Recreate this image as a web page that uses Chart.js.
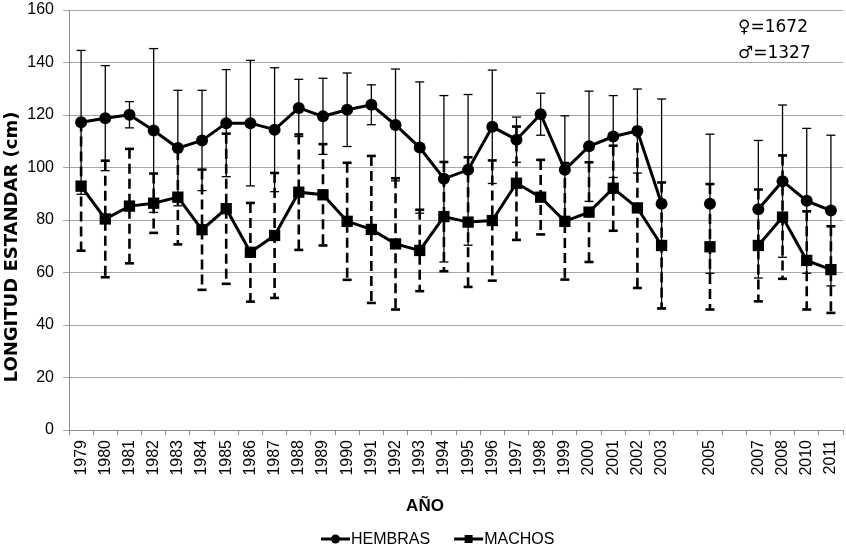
<!DOCTYPE html>
<html>
<head>
<meta charset="utf-8">
<script src="https://cdn.jsdelivr.net/npm/chart.js@4.4.1/dist/chart.umd.min.js"></script>
<style>
  html, body { margin: 0; padding: 0; background: #fff; overflow: hidden; }
  #wrap { width: 846px; height: 549px; }
  canvas { display: block; }
</style>
</head>
<body>
<div id="wrap"><canvas id="chart"></canvas></div>
<script>
// categories (2004 and 2006 are empty slots on the axis)
const years = ['1979', '1980', '1981', '1982', '1983', '1984', '1985', '1986', '1987', '1988',
  '1989', '1990', '1991', '1992', '1993', '1994', '1995', '1996', '1997', '1998', '1999',
  '2000', '2001', '2002', '2003', '', '2005', '', '2007', '2008', '2010', '2011'];

// HEMBRAS: mean and standard deviation
const hembras = [117.2, 118.8, 120.1, 114.1, 107.4, 110.3, 116.9, 116.9, 114.4, 122.7,
  119.5, 122.0, 123.9, 116.2, 107.6, 95.7, 99.1, 115.5, 110.6, 120.3, 99.1,
  108.1, 111.8, 113.9, 86.2, null, 86.2, null, 84.1, 94.8, 87.3, 83.6];
const hembrasSd = [27.4, 20.0, 5.0, 31.2, 22.0, 19.1, 20.4, 23.9, 23.6, 10.9,
  14.5, 14.0, 7.6, 21.3, 25.0, 31.7, 28.7, 21.6, 8.6, 8.0, 20.6,
  21.0, 15.6, 16.0, 39.9, null, 26.5, null, 26.2, 29.0, 27.6, 28.7];

// MACHOS: mean and standard deviation
const machos = [92.9, 80.4, 85.3, 86.4, 88.7, 76.3, 84.3, 67.7, 74.1, 90.6,
  89.6, 79.5, 76.4, 70.9, 68.4, 81.3, 79.2, 79.8, 94.0, 88.7, 79.5,
  83.0, 92.1, 84.6, 70.3, null, 69.8, null, 70.3, 81.1, 64.6, 61.1];
const machosSd = [24.6, 22.2, 21.8, 11.3, 18.0, 22.9, 28.6, 18.8, 23.8, 22.0,
  19.3, 22.3, 28.0, 25.0, 15.5, 20.8, 24.7, 22.9, 21.6, 14.2, 22.2,
  19.0, 16.2, 30.5, 24.0, null, 23.9, null, 21.3, 23.5, 18.7, 16.5];

const yTicks = [0, 20, 40, 60, 80, 100, 120, 140, 160];
const sampleSizes = ['\u2640=1672', '\u2642=1327'];

const sdByDataset = [hembrasSd, machosSd];

// error bars, drawn behind lines and markers
const errorBars = {
  id: 'errorBars',
  beforeDatasetsDraw(chart) {
    const ctx = chart.ctx;
    const y = chart.scales.y;
    chart.data.datasets.forEach((ds, di) => {
      const meta = chart.getDatasetMeta(di);
      const sds = sdByDataset[di];
      ctx.save();
      ctx.strokeStyle = '#000';
      if (di === 0) {
        ctx.lineWidth = 1.3;
        ctx.setLineDash([]);
      } else {
        ctx.lineWidth = 2.6;
        ctx.setLineDash([10, 5]);
      }
      ds.data.forEach((v, i) => {
        if (v == null || sds[i] == null) return;
        const x = meta.data[i].x;
        const top = y.getPixelForValue(v + sds[i]);
        const bot = y.getPixelForValue(v - sds[i]);
        ctx.beginPath();
        ctx.moveTo(x, top);
        ctx.lineTo(x, bot);
        ctx.stroke();
      });
      // caps
      ctx.setLineDash([]);
      ds.data.forEach((v, i) => {
        if (v == null || sds[i] == null) return;
        const x = meta.data[i].x;
        [v + sds[i], v - sds[i]].forEach(val => {
          const py = y.getPixelForValue(val);
          ctx.beginPath();
          ctx.moveTo(x - 4.5, py);
          ctx.lineTo(x + 4.5, py);
          ctx.stroke();
        });
      });
      ctx.restore();
    });
  }
};

// axis titles, legend and sample sizes
const decorations = {
  id: 'decorations',
  afterDraw(chart) {
    const ctx = chart.ctx;
    ctx.save();
    ctx.fillStyle = '#000';

    // y title
    ctx.save();
    ctx.translate(12, 247);
    ctx.rotate(-Math.PI / 2);
    ctx.font = 'bold 18px "DejaVu Sans"';
    ctx.textAlign = 'center';
    ctx.textBaseline = 'middle';
    ctx.fillText('LONGITUD ESTANDAR (cm)', 0, 0);
    ctx.restore();

    // x title
    ctx.font = 'bold 17px "Liberation Sans"';
    ctx.textAlign = 'center';
    ctx.textBaseline = 'middle';
    ctx.fillText('AÑO', 425, 506);

    // legend
    ctx.font = '16px "Liberation Sans"';
    ctx.textAlign = 'left';
    let lx = 321;
    const ly = 539;
    chart.data.datasets.forEach((ds, di) => {
      ctx.strokeStyle = '#000';
      ctx.lineWidth = 3;
      ctx.beginPath();
      ctx.moveTo(lx, ly);
      ctx.lineTo(lx + 29, ly);
      ctx.stroke();
      ctx.beginPath();
      if (di === 0) {
        ctx.arc(lx + 14.5, ly, 4.5, 0, Math.PI * 2);
      } else {
        ctx.rect(lx + 10.5, ly - 4, 8, 8);
      }
      ctx.fill();
      ctx.fillText(ds.label, lx + 30, ly + 1);
      lx += 30 + ctx.measureText(ds.label).width + 24;
    });

    // sample sizes
    ctx.font = '17px "DejaVu Sans"';
    ctx.textBaseline = 'alphabetic';
    ctx.fillText(sampleSizes[0], 738, 32);
    ctx.fillText(sampleSizes[1], 738, 58);
    ctx.restore();
  }
};

const ctx = document.getElementById('chart').getContext('2d');
new Chart(ctx, {
  type: 'line',
  data: {
    labels: years,
    datasets: [
      {
        label: 'HEMBRAS',
        data: hembras,
        borderColor: '#000',
        backgroundColor: '#000',
        borderWidth: 3,
        pointStyle: 'circle',
        pointRadius: 6,
        pointBorderWidth: 0,
        pointBackgroundColor: '#000',
        spanGaps: false,
        tension: 0
      },
      {
        label: 'MACHOS',
        data: machos,
        borderColor: '#000',
        backgroundColor: '#000',
        borderWidth: 3,
        pointStyle: 'rect',
        pointRadius: 8,
        pointBorderWidth: 0,
        pointBackgroundColor: '#000',
        spanGaps: false,
        tension: 0
      }
    ]
  },
  options: {
    responsive: true,
    maintainAspectRatio: false,
    animation: false,
    layout: {
      autoPadding: false,
      padding: { top: 10, right: 3, bottom: 33, left: 0 }
    },
    plugins: {
      legend: { display: false },
      tooltip: { enabled: false }
    },
    scales: {
      x: {
        offset: true,
        grid: {
          offset: true,
          drawOnChartArea: false,
          drawTicks: true,
          tickLength: 5,
          color: '#8c8c8c'
        },
        border: { color: '#8c8c8c' },
        ticks: {
          autoSkip: false,
          minRotation: 90,
          maxRotation: 90,
          padding: 5,
          color: '#000',
          font: { size: 16, family: '"Liberation Sans"' }
        },
        afterFit(scale) {
          scale.height = 86;
          scale.paddingLeft = 0;
          scale.paddingRight = 0;
        }
      },
      y: {
        min: yTicks[0],
        max: yTicks[yTicks.length - 1],
        afterBuildTicks(scale) { scale.ticks = yTicks.map(v => ({ value: v })); },
        grid: {
          color: '#a6a6a6',
          lineWidth: 1,
          tickLength: 6
        },
        border: { color: '#8c8c8c' },
        ticks: {
          padding: 9,
          color: '#000',
          font: { size: 16, family: '"Liberation Sans"' }
        },
        afterFit(scale) {
          scale.width = 69;
          scale.paddingTop = 0;
          scale.paddingBottom = 0;
        }
      }
    }
  },
  plugins: [errorBars, decorations]
});
</script>
</body>
</html>
